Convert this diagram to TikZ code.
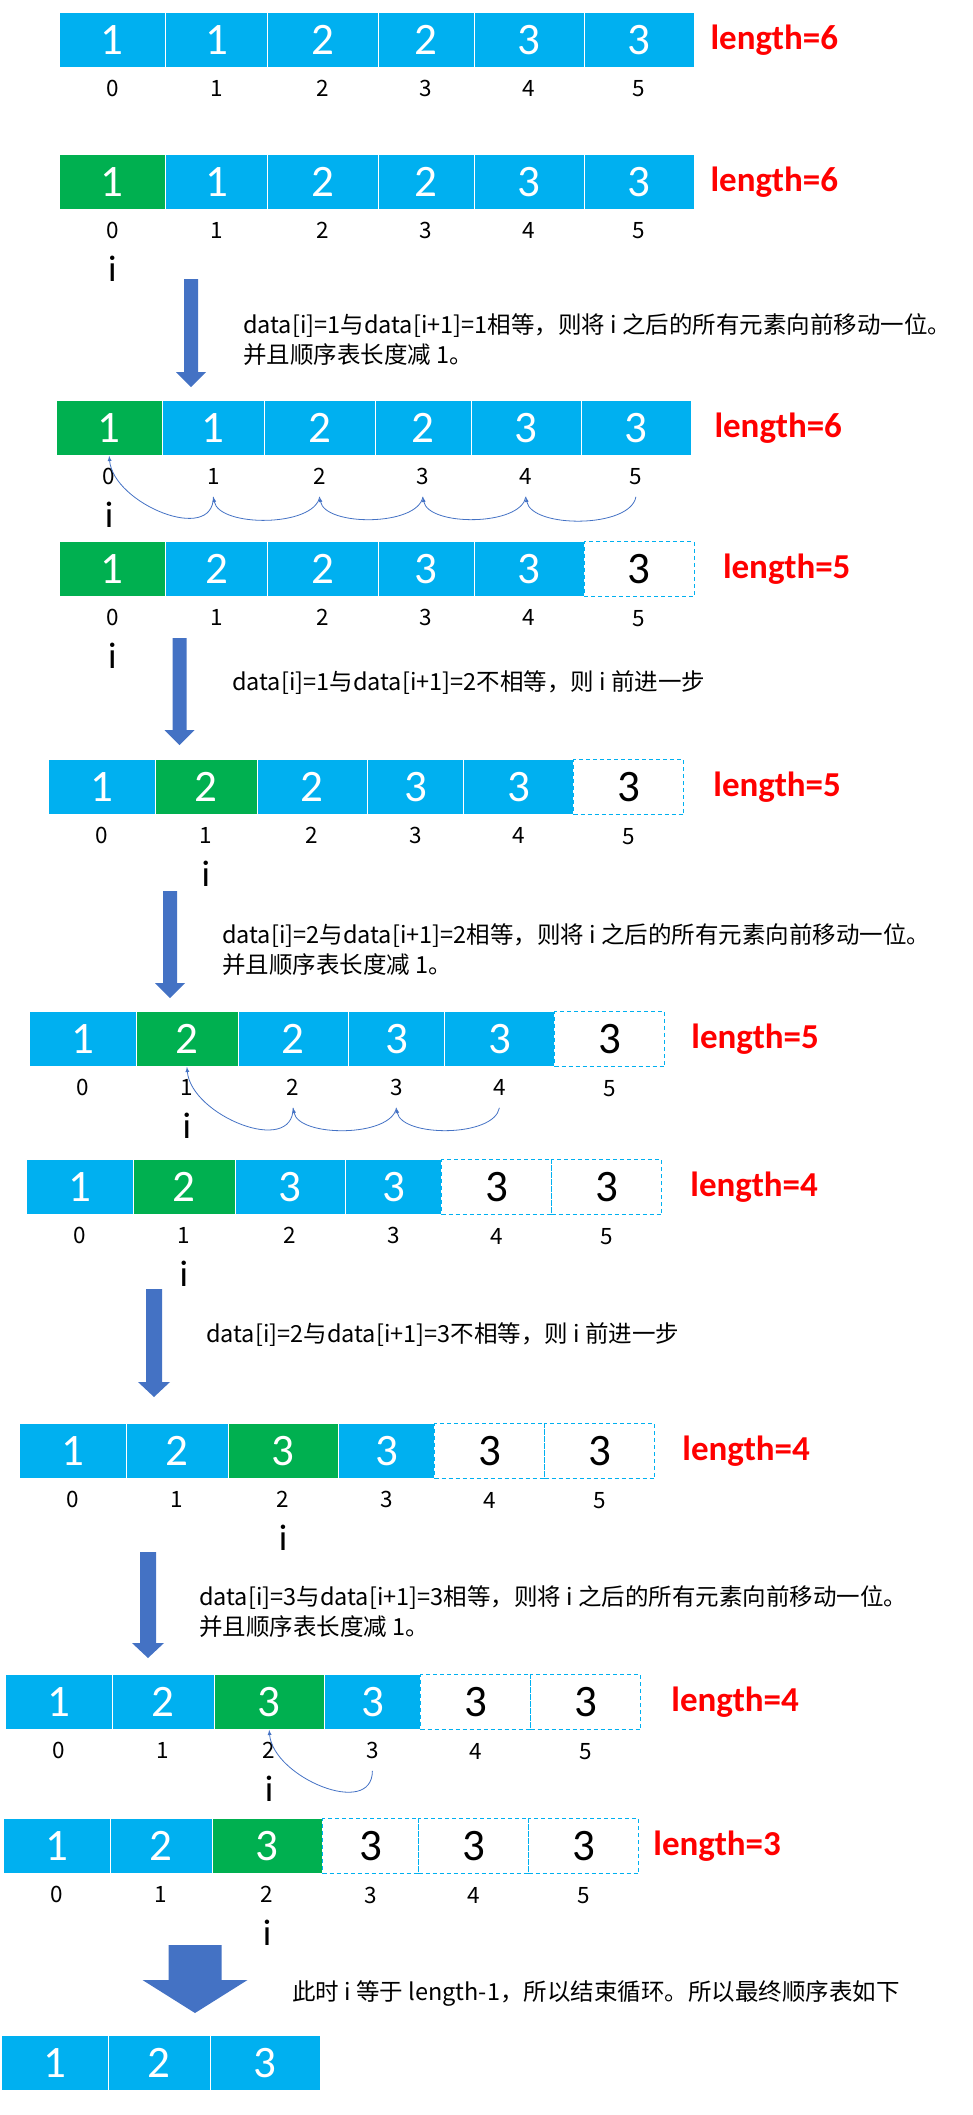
\documentclass[tikz,border=0pt]{standalone}
\usepackage{fontspec}
\setmainfont{Carlito}
\newfontfamily\cjk{Noto Sans CJK SC}
\usetikzlibrary{arrows,positioning}

\definecolor{cellblue}{HTML}{00B0F0}
\definecolor{cellgreen}{HTML}{00B050}
\definecolor{arrowblue}{HTML}{4472C4}

% cells of one row: name, left x, top y, list of value/style
\newcommand{\cellrow}[4]{%
  \foreach \v/\s [count=\k from 0] in {#4} {
    \pgfmathsetmacro{\cx}{#2+{0,106.5,208.5,319,415,525}[\k]}
    \pgfmathsetmacro{\cw}{{106.5,102,110.5,96,110,110}[\k]}
    \node (#1c\k) [\s, minimum width=\cw pt] at (\cx,#3) {\v};
  }
}
% index numbers under a row
\newcommand{\indexrow}[1]{%
  \foreach \k in {0,...,5}
    \node (#1i\k) [idx] at ([yshift=-21pt]#1c\k.south) {\k};
}
% thick down arrow: x, top, tip, half shaft, half head, head length
\newcommand{\blockarrow}[6]{%
  \fill[arrowblue] (#1-#4,#2) -- (#1+#4,#2) -- (#1+#4,#3-#6) -- (#1+#5,#3-#6)
    -- (#1,#3) -- (#1-#5,#3-#6) -- (#1-#4,#3-#6) -- cycle;
}

\begin{document}
\begin{tikzpicture}[x=1pt, y=-1pt]
  \tikzstyle{elem} = [rectangle, anchor=north west, minimum height=55pt, inner sep=0pt, fill=cellblue, draw=white, line width=0.8pt, text=white, font=\fontsize{45}{45}\selectfont]
  \tikzstyle{curelem} = [elem, fill=cellgreen]
  \tikzstyle{freeelem} = [elem, fill=white, draw=cellblue, dash pattern=on 4pt off 3pt, line width=1.2pt, text=black]
  \tikzstyle{idx} = [inner sep=0pt, font=\cjk\fontsize{22.5}{22.5}\selectfont]
  \tikzstyle{ptr} = [inner sep=0pt, font=\fontsize{37}{37}\selectfont]
  \tikzstyle{len} = [inner sep=0pt, text=red, font=\bfseries\fontsize{35}{35}\selectfont]
  \tikzstyle{note} = [anchor=west, inner sep=0pt, align=left, font=\cjk\fontsize{23.5}{30}\selectfont]
  \tikzstyle{move} = [-latex, draw=arrowblue, line width=0.8pt]

  \useasboundingbox (0,0) rectangle (972,2115);

  % start
  \cellrow{r1}{58.6}{12}{1/elem,1/elem,2/elem,2/elem,3/elem,3/elem}
  \indexrow{r1}
  \node (len1) [len, right=16pt of r1c5] {length=6};

  \cellrow{r2}{58.6}{154}{1/curelem,1/elem,2/elem,2/elem,3/elem,3/elem}
  \indexrow{r2}
  \node (len2) [len, right=16pt of r2c5] {length=6};
  \node (p2) [ptr] at ([yshift=-38pt]r2i0.center) {i};

  \blockarrow{191}{279}{387}{7}{15}{15}
  \node (note1) [note] at (243,339.5) {data[i]=1与data[i+1]=1相等，则将 i 之后的所有元素向前移动一位。\\并且顺序表长度减 1。};

  % shift after i=0
  \cellrow{r3}{55.5}{400}{1/curelem,1/elem,2/elem,2/elem,3/elem,3/elem}
  \indexrow{r3}
  \node (len3) [len, right=23pt of r3c5] {length=6};
  \node (p3) [ptr] at ([yshift=-38pt]r3i0.center) {i};
  \draw [move] ([yshift=-20pt]r3i5.center) to[out=-100,in=-80,looseness=0.75] ([yshift=-20pt]r3i4.center);
  \draw [move] ([yshift=-20pt]r3i4.center) to[out=-100,in=-80,looseness=0.75] ([yshift=-20pt]r3i3.center);
  \draw [move] ([yshift=-20pt]r3i3.center) to[out=-100,in=-80,looseness=0.75] ([yshift=-20pt]r3i2.center);
  \draw [move] ([yshift=-20pt]r3i2.center) to[out=-100,in=-80,looseness=0.75] ([yshift=-20pt]r3i1.center);
  \draw [move] ([yshift=-20pt]r3i1.center) to[out=-90,in=-85,looseness=1.1] (r3c0.south);

  \cellrow{r4}{58.6}{541}{1/curelem,2/elem,2/elem,3/elem,3/elem,3/freeelem}
  \indexrow{r4}
  \node (len4) [len, right=28pt of r4c5] {length=5};
  \node (p4) [ptr] at ([yshift=-38pt]r4i0.center) {i};

  \blockarrow{179.5}{638}{745}{7}{15}{15}
  \node (note2) [note] at (232,683) {data[i]=1与data[i+1]=2不相等，则 i 前进一步};

  % i=1
  \cellrow{r5}{48}{759}{1/elem,2/curelem,2/elem,3/elem,3/elem,3/freeelem}
  \indexrow{r5}
  \node (len5) [len, right=29pt of r5c5] {length=5};
  \node (p5) [ptr] at ([yshift=-38pt]r5i1.center) {i};

  \blockarrow{170}{891}{998}{7}{15}{15}
  \node (note3) [note] at (222,950) {data[i]=2与data[i+1]=2相等，则将 i 之后的所有元素向前移动一位。\\并且顺序表长度减 1。};

  \cellrow{r6}{29}{1011}{1/elem,2/curelem,2/elem,3/elem,3/elem,3/freeelem}
  \indexrow{r6}
  \node (len6) [len, right=26pt of r6c5] {length=5};
  \node (p6) [ptr] at ([yshift=-38pt]r6i1.center) {i};
  \draw [move] ([yshift=-20pt]r6i4.center) to[out=-100,in=-80,looseness=0.75] ([yshift=-20pt]r6i3.center);
  \draw [move] ([yshift=-20pt]r6i3.center) to[out=-100,in=-80,looseness=0.75] ([yshift=-20pt]r6i2.center);
  \draw [move] ([yshift=-20pt]r6i2.center) to[out=-90,in=-85,looseness=1.1] (r6c1.south);

  \cellrow{r7}{26}{1159}{1/elem,2/curelem,3/elem,3/elem,3/freeelem,3/freeelem}
  \indexrow{r7}
  \node (len7) [len, right=28pt of r7c5] {length=4};
  \node (p7) [ptr] at ([yshift=-38pt]r7i1.center) {i};

  \blockarrow{154}{1289}{1397}{8}{16}{15}
  \node (note4) [note] at (206,1335) {data[i]=2与data[i+1]=3不相等，则 i 前进一步};

  % i=2
  \cellrow{r8}{19}{1423}{1/elem,2/elem,3/curelem,3/elem,3/freeelem,3/freeelem}
  \indexrow{r8}
  \node (len8) [len, right=27pt of r8c5] {length=4};
  \node (p8) [ptr] at ([yshift=-38pt]r8i2.center) {i};

  \blockarrow{148}{1552}{1658}{8}{16}{15}
  \node (note5) [note] at (199,1612) {data[i]=3与data[i+1]=3相等，则将 i 之后的所有元素向前移动一位。\\并且顺序表长度减 1。};

  \cellrow{r9}{5}{1674}{1/elem,2/elem,3/curelem,3/elem,3/freeelem,3/freeelem}
  \indexrow{r9}
  \node (len9) [len, right=30pt of r9c5] {length=4};
  \node (p9) [ptr] at ([yshift=-38pt]r9i2.center) {i};
  \draw [move] ([yshift=-20pt]r9i3.center) to[out=-90,in=-85,looseness=1.1] (r9c2.south);

  \cellrow{r10}{3}{1818}{1/elem,2/elem,3/curelem,3/freeelem,3/freeelem,3/freeelem}
  \indexrow{r10}
  \node (len10) [len, right=14pt of r10c5] {length=3};
  \node (p10) [ptr] at ([yshift=-38pt]r10i2.center) {i};

  % end of loop
  \blockarrow{195}{1945}{2013}{26.5}{52.5}{33}
  \node (note6) [note] at (292,1993) {此时 i 等于 length-1，所以结束循环。所以最终顺序表如下};

  \cellrow{r11}{1}{2035}{1/elem,2/elem,3/elem}
\end{tikzpicture}
\end{document}
